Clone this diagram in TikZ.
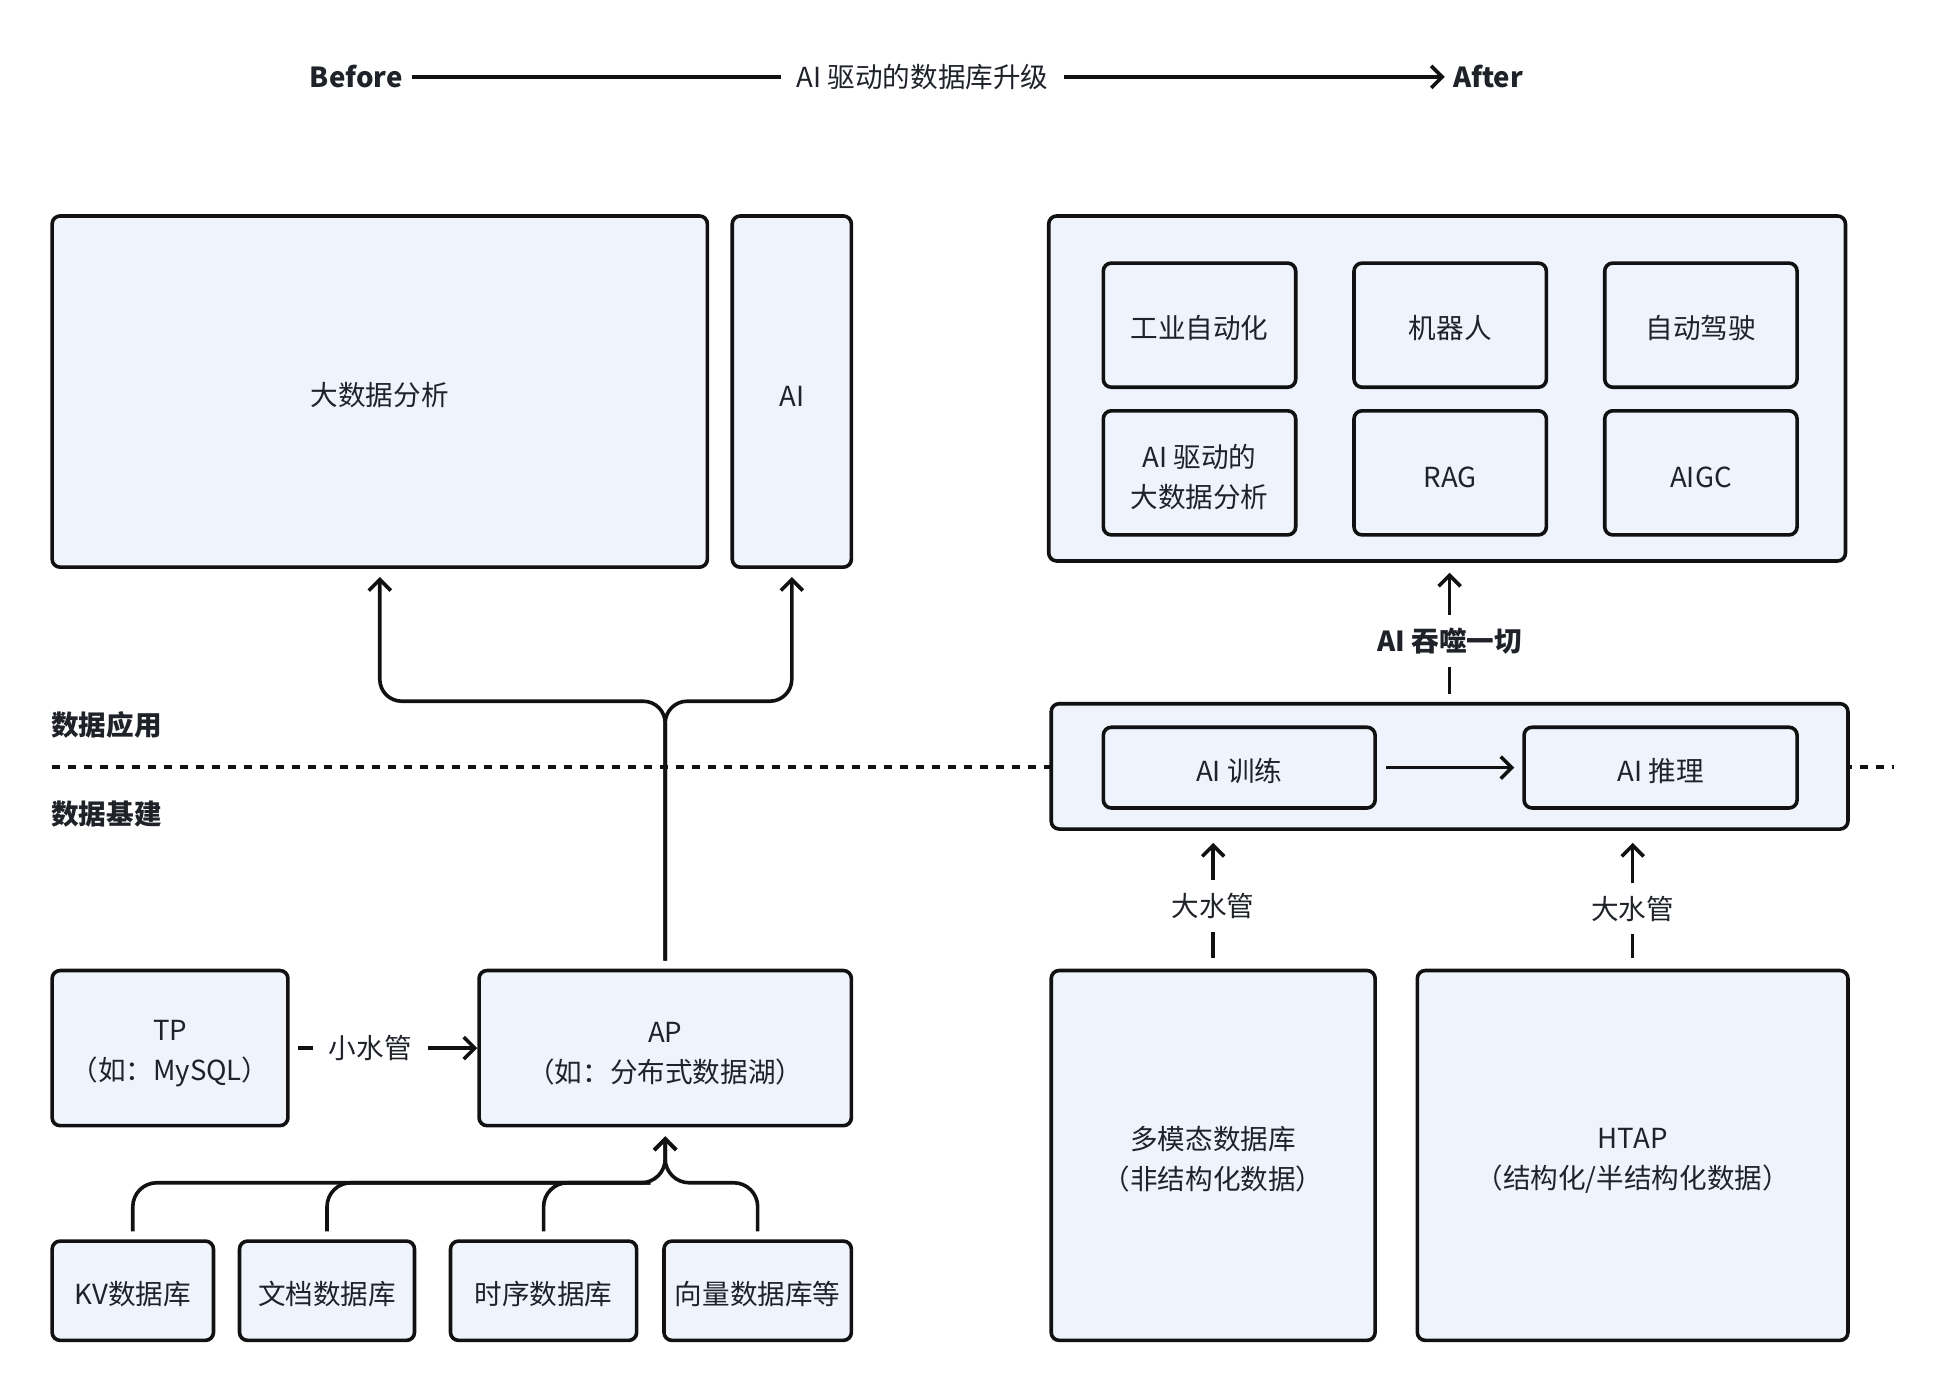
\documentclass[tikz,border=0pt]{standalone}
\usepackage{fontspec}
\setmainfont{Noto Sans CJK SC}
\usetikzlibrary{arrows.meta}
\definecolor{boxfill}{RGB}{238,243,252}
\definecolor{linec}{RGB}{17,17,17}
\definecolor{textc}{RGB}{31,35,41}
\newcommand\bx[7][]{\node[box,#1,minimum width={(#5-#3)*0.6206pt},minimum height={(#6-#4)*0.6206pt}] (#2) at ({(#3+#5)/2},{(#4+#6)/2}) {#7};}
\begin{document}
\begin{tikzpicture}[x=0.6206pt,y=-0.6206pt,
  txt/.style={text=textc,font=\fontsize{13.8}{20}\selectfont,inner sep=0pt,align=center},
  lower/.style={execute at begin node={\rule{0pt}{#1}}},
  box/.style={txt,draw=linec,line width=1.8pt,fill=boxfill,rounded corners=4pt,lower=14.6pt},
  twoline/.style={lower=35.8pt},
  conn/.style={draw=linec,line width=1.8pt},
  arr/.style={conn,-{Straight Barb[length=5.5pt,width=11pt]}},
  lbl/.style={txt,fill=white,inner xsep=8pt,inner ysep=6.5pt},
  dotline/.style={draw=linec,line width=1.7pt,dash pattern=on 3.8pt off 4.2pt}]
\useasboundingbox (0,0) rectangle (1568,1122);
\fill[white] (0,0) rectangle (1568,1122);

% title
\node[txt,font=\fontsize{13.8}{20}\selectfont\bfseries] (before) at (287,62) {Before};
\node[txt,font=\fontsize{13.8}{20}\selectfont\bfseries] (after) at (1199,62) {After};
\draw[arr,shorten <=4.5pt,shorten >=4pt] (before.east) -- node[lbl,pos=0.495,inner ysep=2pt] {AI 驱动的数据库升级} (after.west);

% layer labels and divider
\node[txt,anchor=west,font=\fontsize{13.8}{20}\selectfont\bfseries] (app) at (41,584) {数据应用};
\node[txt,anchor=west,font=\fontsize{13.8}{20}\selectfont\bfseries] (infra) at (41,656) {数据基建};
\coordinate (dl) at (42,618);
\coordinate (dr) at (1526,618);
\draw[dotline] (dl) -- (dr);

% left: before
\bx{big}{42}{174}{570}{457}{大数据分析}
\bx{ai}{590}{174}{686}{457}{AI}
\bx[twoline]{tp}{42}{782}{232}{907}{TP\\（如：MySQL）}
\bx[twoline]{ap}{386}{782}{686}{907}{AP\\（如：分布式数据湖）}
\bx{kv}{42}{1000}{172}{1080}{KV数据库}
\bx{doc}{193}{1000}{334}{1080}{文档数据库}
\bx{ts}{363}{1000}{513}{1080}{时序数据库}
\bx{vec}{535}{1000}{686}{1080}{向量数据库等}

% right: after
\bx{top}{845}{174}{1487}{452}{}
\bx{a1}{889}{212}{1044}{312}{工业自动化}
\bx{a2}{1091}{212}{1246}{312}{机器人}
\bx{a3}{1293}{212}{1448}{312}{自动驾驶}
\bx[twoline]{a4}{889}{331}{1044}{431}{AI 驱动的\\大数据分析}
\bx{a5}{1091}{331}{1246}{431}{RAG}
\bx{a6}{1293}{331}{1448}{431}{AIGC}
\bx{mid}{847}{567}{1489}{668}{}
\bx{train}{889}{586}{1108}{651}{AI 训练}
\bx{infer}{1228}{586}{1448}{651}{AI 推理}
\bx[twoline]{dm}{847}{782}{1108}{1080}{多模态数据库\\（非结构化数据）}
\bx[twoline]{htap}{1142}{782}{1489}{1080}{HTAP\\（结构化/半结构化数据）}

% left connectors
\coordinate (fy) at (536,565);
\coordinate (jy) at (536,953);
\coordinate (jyL) at (524,953);
\draw[arr,rounded corners=11pt,shorten <=4pt,shorten >=4pt] (ap.north) -- (fy) -| (big.south);
\draw[arr,rounded corners=11pt,shorten <=4pt,shorten >=4pt] (ap.north) -- (fy) -| (ai.south);
\draw[arr,shorten <=4pt] (tp.east) -- node[lbl,pos=0.43] {小水管} (ap.west);
\draw[arr,shorten <=4pt,shorten >=4.5pt] (kv.north) [rounded corners=12pt] |- (jy) [rounded corners=6pt] -- (ap.south);
\draw[arr,shorten <=4pt,shorten >=4.5pt] (vec.north) [rounded corners=12pt] |- (jy) [rounded corners=6pt] -- (ap.south);
\draw[conn,rounded corners=12pt,shorten <=4pt] (doc.north) |- (jyL);
\draw[conn,rounded corners=12pt,shorten <=4pt] (ts.north) |- (jyL);

% right connectors
\draw[arr,shorten <=4pt,shorten >=5pt] (mid.north) -- node[lbl,pos=0.44,font=\fontsize{13.8}{20}\selectfont\bfseries] {AI 吞噬一切} (mid.north |- top.south);
\draw[arr,shorten <=4.5pt,shorten >=4pt] (train) -- (infer);
\draw[arr,shorten <=5.5pt,shorten >=6pt] (dm.north) -- node[lbl,pos=0.455] {大水管} (dm.north |- mid.south);
\draw[arr,shorten <=5.5pt,shorten >=6pt] (htap.north) -- node[lbl,pos=0.437] {大水管} (htap.north |- mid.south);
\end{tikzpicture}
\end{document}
